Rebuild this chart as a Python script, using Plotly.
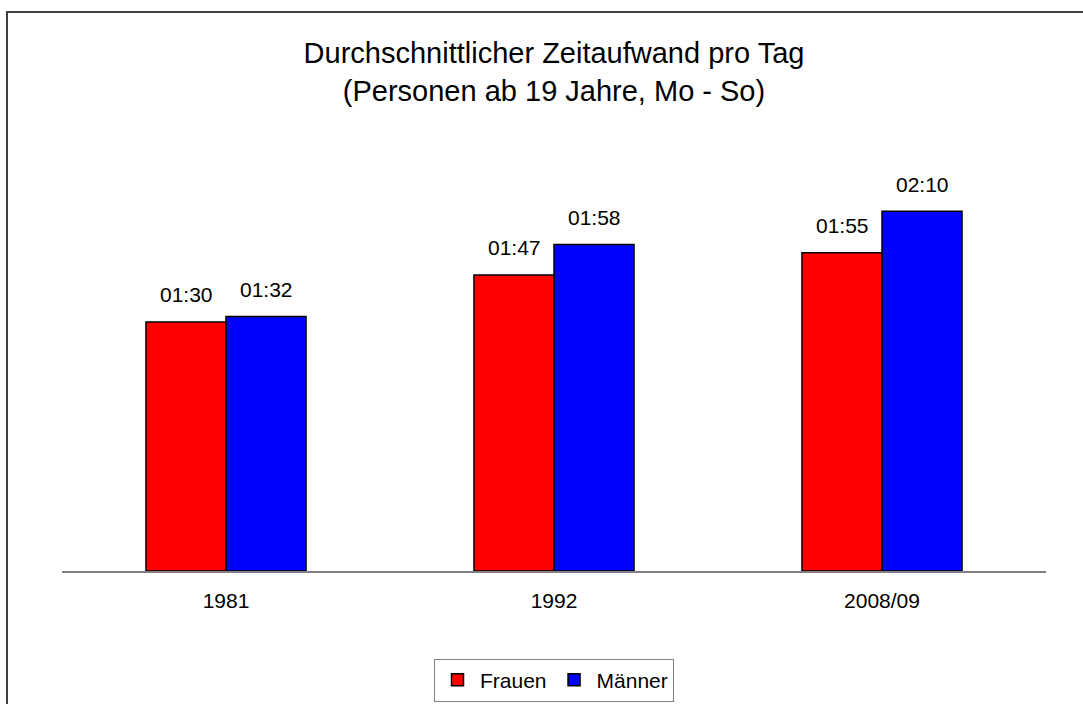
import plotly.graph_objects as go

# Average daily time spent, in minutes
years = ["1981", "1992", "2008/09"]
frauen_min = [90, 107, 115]
maenner_min = [92, 118, 130]

FONT = "Liberation Sans, Arial, sans-serif"


def hhmm(m):
    return f"{m // 60:02d}:{m % 60:02d}"


fig = go.Figure()
fig.add_trace(go.Bar(name="Frauen", x=years, y=frauen_min,
                     marker=dict(color="#ff0000", line=dict(color="black", width=1.5))))
fig.add_trace(go.Bar(name="Männer", x=years, y=maenner_min,
                     marker=dict(color="#0000ff", line=dict(color="black", width=1.5))))

# Value labels above each bar (category axis positions are serial indices)
for vals, shift in ((frauen_min, -40), (maenner_min, 40)):
    for i, v in enumerate(vals):
        fig.add_annotation(x=i, y=v, text=hhmm(v), showarrow=False,
                           xshift=shift, yshift=27, yanchor="middle",
                           font=dict(size=21, color="black", family=FONT))

# Frame around the whole chart
fig.add_shape(type="rect", xref="paper", yref="paper",
              x0=-0.0559, x1=1.3, y0=-0.6, y1=1.1868,
              line=dict(color="#404040", width=2), layer="below")

fig.update_layout(
    width=1083, height=704,
    margin=dict(l=62, r=37, t=100, b=133, autoexpand=False),
    paper_bgcolor="white", plot_bgcolor="white",
    font=dict(family=FONT, size=21, color="black"),
    title=dict(text="Durchschnittlicher Zeitaufwand pro Tag<br>(Personen ab 19 Jahre, Mo - So)",
               x=0.5, xanchor="center", xref="paper",
               y=1 - 63 / 704, yanchor="middle", yref="container",
               font=dict(size=29, family=FONT, color="black")),
    barmode="group", bargap=0.512, bargroupgap=0,
    xaxis=dict(type="category", range=[-0.5, 2.5], showline=True,
               linecolor="#808080", linewidth=2, automargin=False,
               ticks="outside", ticklen=10, tickcolor="rgba(0,0,0,0)",
               showgrid=False, tickfont=dict(size=21)),
    yaxis=dict(range=[0, 170.2], visible=False, showgrid=False),
    showlegend=True,
    legend=dict(orientation="h", x=0.5, xanchor="center",
                y=(704 - 680) / 704, yanchor="middle", yref="container",
                bordercolor="#808080", borderwidth=1, font=dict(size=21),
                itemwidth=35),
)

fig.write_html("out.html")
